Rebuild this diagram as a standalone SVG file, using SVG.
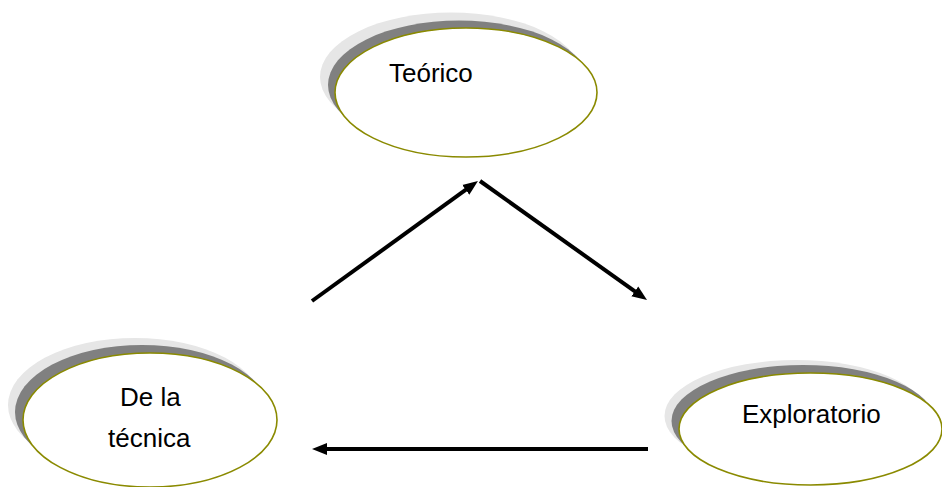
<svg xmlns="http://www.w3.org/2000/svg" width="942" height="487" viewBox="0 0 942 487">
<style>
.sh1{fill:#e6e6e6;stroke:none}
.sh2{fill:#808080;stroke:none}
.main{fill:#ffffff;stroke:#8a8a00;stroke-width:1.6}
.lbl{font-family:"Liberation Sans",Arial,sans-serif;font-size:26px;fill:#000}
.conn{stroke:#000;stroke-width:4;fill:none;marker-end:url(#ah)}
</style>
<defs>
<marker id="ah" markerUnits="userSpaceOnUse" viewBox="0 -7 16 14" refX="1" refY="0" markerWidth="16" markerHeight="14" orient="auto">
<path d="M0,-6 L15,0 L0,6 z" fill="#000"/>
</marker>
</defs>
<rect width="942" height="487" fill="#fff"/>
<g id="teorico">
<ellipse class="sh1" cx="451" cy="77" rx="131" ry="64.5"/>
<ellipse class="sh2" cx="459" cy="85" rx="131" ry="64.5"/>
<ellipse class="main" cx="466" cy="92.5" rx="131" ry="64.5"/>
<text class="lbl" x="389" y="82">Teórico</text>
</g>
<g id="tecnica">
<ellipse class="sh1" cx="135" cy="405" rx="127" ry="67"/>
<ellipse class="sh2" cx="142" cy="412" rx="127" ry="67"/>
<ellipse class="main" cx="150" cy="420" rx="127" ry="67"/>
<text class="lbl" x="120" y="406">De la</text>
<text class="lbl" x="108" y="447">técnica</text>
</g>
<g id="exploratorio">
<ellipse class="sh1" cx="796" cy="416" rx="131.5" ry="56"/>
<ellipse class="sh2" cx="803" cy="421" rx="131.5" ry="56"/>
<ellipse class="main" cx="810.5" cy="429" rx="131.5" ry="56"/>
<text class="lbl" x="742" y="423">Exploratorio</text>
</g>
<g id="connectors">
<line class="conn" x1="312" y1="301" x2="466.6" y2="189.2"/>
<line class="conn" x1="480" y1="181" x2="635.6" y2="291.9"/>
<line class="conn" x1="648" y1="449" x2="326" y2="449"/>
</g>
</svg>
